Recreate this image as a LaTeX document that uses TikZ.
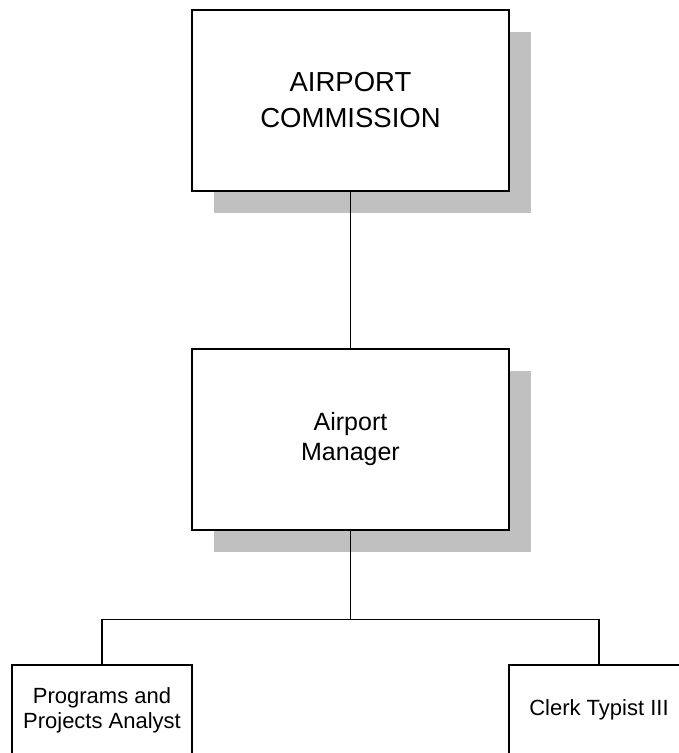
\documentclass[tikz,border=0pt]{standalone}
\usepackage{fontspec}
\setmainfont{Liberation Sans}
\usetikzlibrary{shadows}
\definecolor{shadowgray}{HTML}{C0C0C0}

\tikzset{
	orgbox/.style={draw, rectangle, line width=1.4pt, fill=white, align=center, inner sep=0pt},
	bigbox/.style={orgbox, minimum width=317pt, minimum height=181pt,
		general shadow={fill=shadowgray, draw=none, shadow xshift=22pt, shadow yshift=-22pt}},
	smallbox/.style={orgbox, minimum width=180pt, minimum height=90pt, font=\fontsize{22}{25}\selectfont},
	link/.style={line width=1.4pt}
}

\begin{document}
\begin{tikzpicture}[x=1pt, y=-1pt]
				\useasboundingbox (0,0) rectangle (679,753);
				\clip (0,0) rectangle (679,753);
				\node (comm) [bigbox, font=\fontsize{27.5}{36}\selectfont] at (350.5,100.5) {AIRPORT\\COMMISSION};
				\node (mgr) [bigbox, font=\fontsize{25}{30}\selectfont, below of=comm, node distance=339pt] {Airport\\Manager};
				\node (ppa) [smallbox] at (102,710) {Programs and\\Projects Analyst};
				\node (clerk) [smallbox] at (599,710) {Clerk Typist III};
				
				
				% Lines
				\draw[link] (comm) -- (mgr);
				\draw[link] (mgr.south) -- ++(0,89) coordinate (bus);
				\draw[link] (ppa.north) |- (bus) -| (clerk.north);
				
			\end{tikzpicture}
\end{document}
